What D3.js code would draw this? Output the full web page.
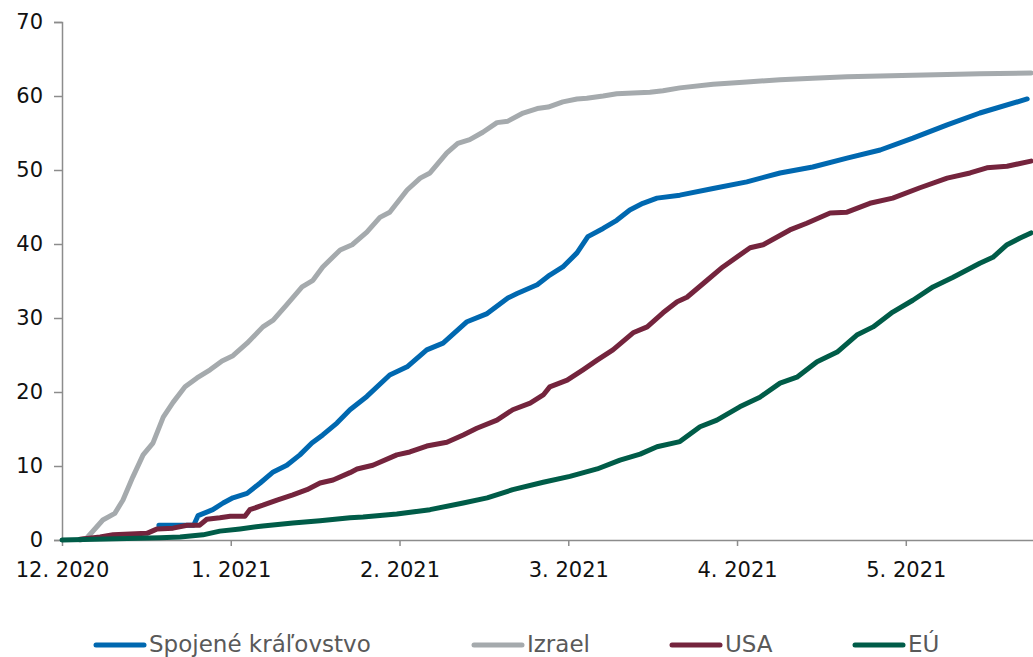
<!DOCTYPE html>
<html>
<head>
<meta charset="utf-8">
<script src="https://cdn.jsdelivr.net/npm/d3@7"></script>
<style>
  body { margin: 0; background: #ffffff; }
  svg { display: block; }
</style>
</head>
<body>
<svg id="chart" width="1033" height="657"></svg>
<script>
// Cumulative vaccine doses per 100 inhabitants, by day since the start of December 2020
const seriesNames = ["Spojené kráľovstvo", "Izrael", "USA", "EÚ"];
const seriesColors = ["#0068b0", "#a5aaad", "#74243d", "#005c48"];

const tickDays = [0, 31, 62, 93, 124, 155];
const tickLabels = ["12. 2020", "1. 2021", "2. 2021", "3. 2021", "4. 2021", "5. 2021"];
const yTicks = [0, 10, 20, 30, 40, 50, 60, 70];

const ukDays = [17.8, 24.2, 25.0, 27.7, 29.6, 31.4, 34.0, 36.4, 38.8, 41.3, 43.7, 45.9, 47.9, 50.5, 52.9, 56.0, 60.2, 63.4, 67.0, 70.0, 74.4, 78.1, 81.9, 83.6, 87.3, 89.6, 92.0, 94.6, 96.6, 99.4, 101.9, 104.3, 106.7, 109.3, 113.5, 119.6, 125.8, 131.9, 137.9, 144.2, 150.3, 156.3, 162.6, 168.6, 177.3];
const ukValues = [2.0, 2.0, 3.3, 4.1, 5.0, 5.7, 6.3, 7.7, 9.2, 10.1, 11.5, 13.1, 14.2, 15.8, 17.6, 19.4, 22.3, 23.4, 25.7, 26.6, 29.5, 30.6, 32.7, 33.3, 34.5, 35.8, 36.9, 38.8, 41.0, 42.1, 43.2, 44.6, 45.5, 46.2, 46.6, 47.5, 48.4, 49.6, 50.4, 51.6, 52.7, 54.3, 56.1, 57.7, 59.6];

const ilDays = [3.3, 4.6, 7.5, 9.7, 11.2, 13.0, 14.9, 16.7, 18.6, 20.4, 22.6, 24.8, 27.2, 29.4, 31.4, 34.0, 36.9, 38.8, 41.3, 44.1, 46.1, 47.9, 51.1, 53.3, 56.0, 58.4, 60.2, 63.4, 65.8, 67.6, 70.7, 72.7, 74.9, 77.3, 79.9, 81.9, 84.7, 87.3, 89.3, 92.0, 94.6, 96.4, 99.4, 101.9, 104.9, 108.0, 110.4, 113.5, 119.6, 125.8, 131.9, 137.9, 144.2, 150.3, 156.3, 162.6, 168.6, 178];
const ilValues = [0.0, 0.3, 2.7, 3.6, 5.4, 8.5, 11.5, 13.1, 16.6, 18.6, 20.7, 21.9, 23.0, 24.2, 24.9, 26.6, 28.8, 29.7, 31.8, 34.2, 35.1, 36.9, 39.2, 39.9, 41.6, 43.6, 44.3, 47.3, 48.9, 49.6, 52.3, 53.6, 54.1, 55.1, 56.4, 56.6, 57.7, 58.3, 58.5, 59.2, 59.6, 59.7, 60.0, 60.3, 60.4, 60.5, 60.7, 61.1, 61.6, 61.9, 62.2, 62.4, 62.6, 62.7, 62.8, 62.9, 63.0, 63.1];

const usDays = [3.3, 7.0, 9.4, 15.6, 17.5, 20.4, 23.0, 25.3, 26.6, 29.0, 30.9, 33.6, 34.5, 36.9, 39.5, 42.4, 45.0, 47.4, 49.8, 52.9, 54.2, 57.1, 61.5, 63.9, 67.0, 70.7, 73.7, 76.2, 79.9, 82.8, 86.0, 88.4, 89.6, 92.8, 95.7, 98.3, 101.2, 104.9, 107.5, 110.4, 113.0, 114.8, 118.5, 121.4, 126.4, 128.8, 133.7, 136.8, 141.1, 144.2, 148.4, 152.6, 157.6, 162.6, 166.8, 169.9, 173.6, 178];
const usValues = [0.1, 0.4, 0.7, 0.9, 1.5, 1.6, 2.0, 2.0, 2.8, 3.0, 3.2, 3.2, 4.1, 4.7, 5.4, 6.1, 6.8, 7.7, 8.1, 9.1, 9.6, 10.1, 11.5, 11.9, 12.7, 13.2, 14.2, 15.1, 16.2, 17.6, 18.5, 19.6, 20.7, 21.6, 23.0, 24.3, 25.7, 28.0, 28.8, 30.7, 32.2, 32.8, 35.1, 36.9, 39.5, 39.9, 41.9, 42.8, 44.2, 44.3, 45.5, 46.2, 47.6, 48.9, 49.6, 50.3, 50.5, 51.2];

const euDays = [0, 18.0, 21.7, 25.9, 29.0, 32.7, 36.9, 42.4, 47.4, 52.9, 55.3, 61.5, 67.6, 73.7, 78.1, 82.8, 88.4, 93.3, 98.3, 102.5, 106.2, 109.3, 113.5, 117.2, 120.3, 124.5, 128.2, 131.9, 135.0, 138.7, 142.4, 146.0, 149.0, 152.6, 156.3, 160.0, 163.7, 168.6, 171.0, 173.6, 176.0, 178];
const euValues = [0.0, 0.3, 0.4, 0.7, 1.2, 1.5, 1.9, 2.3, 2.6, 3.0, 3.1, 3.5, 4.1, 5.0, 5.7, 6.8, 7.8, 8.6, 9.6, 10.8, 11.6, 12.6, 13.3, 15.3, 16.2, 18.0, 19.3, 21.2, 22.0, 24.1, 25.4, 27.7, 28.8, 30.8, 32.4, 34.2, 35.5, 37.4, 38.2, 39.9, 40.8, 41.5];

const seriesDays = [ukDays, ilDays, usDays, euDays];
const seriesValues = [ukValues, ilValues, usValues, euValues];

// Layout
const plot = { left: 62, right: 1031, top: 22, bottom: 540 };
const axisColor = "#8c8c8c";
const fontFamily = "'DejaVu Sans', Verdana, sans-serif";

const svg = d3.select("#chart");

const x = d3.scaleLinear().domain([0, 178]).range([plot.left, plot.right]);
const y = d3.scaleLinear().domain([0, 70]).range([plot.bottom, plot.top]);

// Y axis
const yAxis = svg.append("g")
  .attr("transform", `translate(${plot.left},0)`)
  .call(d3.axisLeft(y).tickValues(yTicks).tickSize(8).tickPadding(11).tickFormat(d3.format("d")));
yAxis.select(".domain").attr("stroke", axisColor).attr("stroke-width", 1.5);
yAxis.selectAll(".tick line").attr("stroke", axisColor).attr("stroke-width", 1.5);
yAxis.selectAll(".tick text")
  .attr("fill", "#111")
  .style("font-family", fontFamily)
  .style("font-size", "21px");

// X axis
const xAxis = svg.append("g")
  .attr("transform", `translate(0,${plot.bottom})`)
  .call(d3.axisBottom(x).tickValues(tickDays).tickSize(6).tickSizeOuter(0).tickPadding(16)
    .tickFormat((d, i) => tickLabels[i]));
xAxis.select(".domain").attr("stroke", axisColor).attr("stroke-width", 1.5)
  .attr("d", `M${plot.left},0.5H1033`);
xAxis.selectAll(".tick line").attr("stroke", axisColor).attr("stroke-width", 1.5);
xAxis.selectAll(".tick text")
  .attr("fill", "#111")
  .style("font-family", fontFamily)
  .style("font-size", "21px");

// Series lines
const line = d3.line()
  .x(d => x(d[0]))
  .y(d => y(d[1]))
  .curve(d3.curveLinear);

seriesNames.forEach((name, i) => {
  const pts = seriesDays[i].map((d, j) => [d, seriesValues[i][j]]);
  svg.append("path")
    .datum(pts)
    .attr("fill", "none")
    .attr("stroke", seriesColors[i])
    .attr("stroke-width", 5)
    .attr("stroke-linejoin", "round")
    .attr("stroke-linecap", "round")
    .attr("d", line);
});

// Legend
const legendX = [94, 472, 670, 853];
const legendY = 645;
const legend = svg.append("g");
seriesNames.forEach((name, i) => {
  const g = legend.append("g").attr("transform", `translate(${legendX[i]},${legendY})`);
  g.append("line")
    .attr("x1", 2).attr("x2", 50).attr("y1", 0).attr("y2", 0)
    .attr("stroke", seriesColors[i]).attr("stroke-width", 5).attr("stroke-linecap", "round");
  g.append("text")
    .attr("x", 55).attr("y", 7)
    .attr("fill", "#595959")
    .style("font-family", fontFamily)
    .style("font-size", "23px")
    .text(name);
});
</script>
</body>
</html>
